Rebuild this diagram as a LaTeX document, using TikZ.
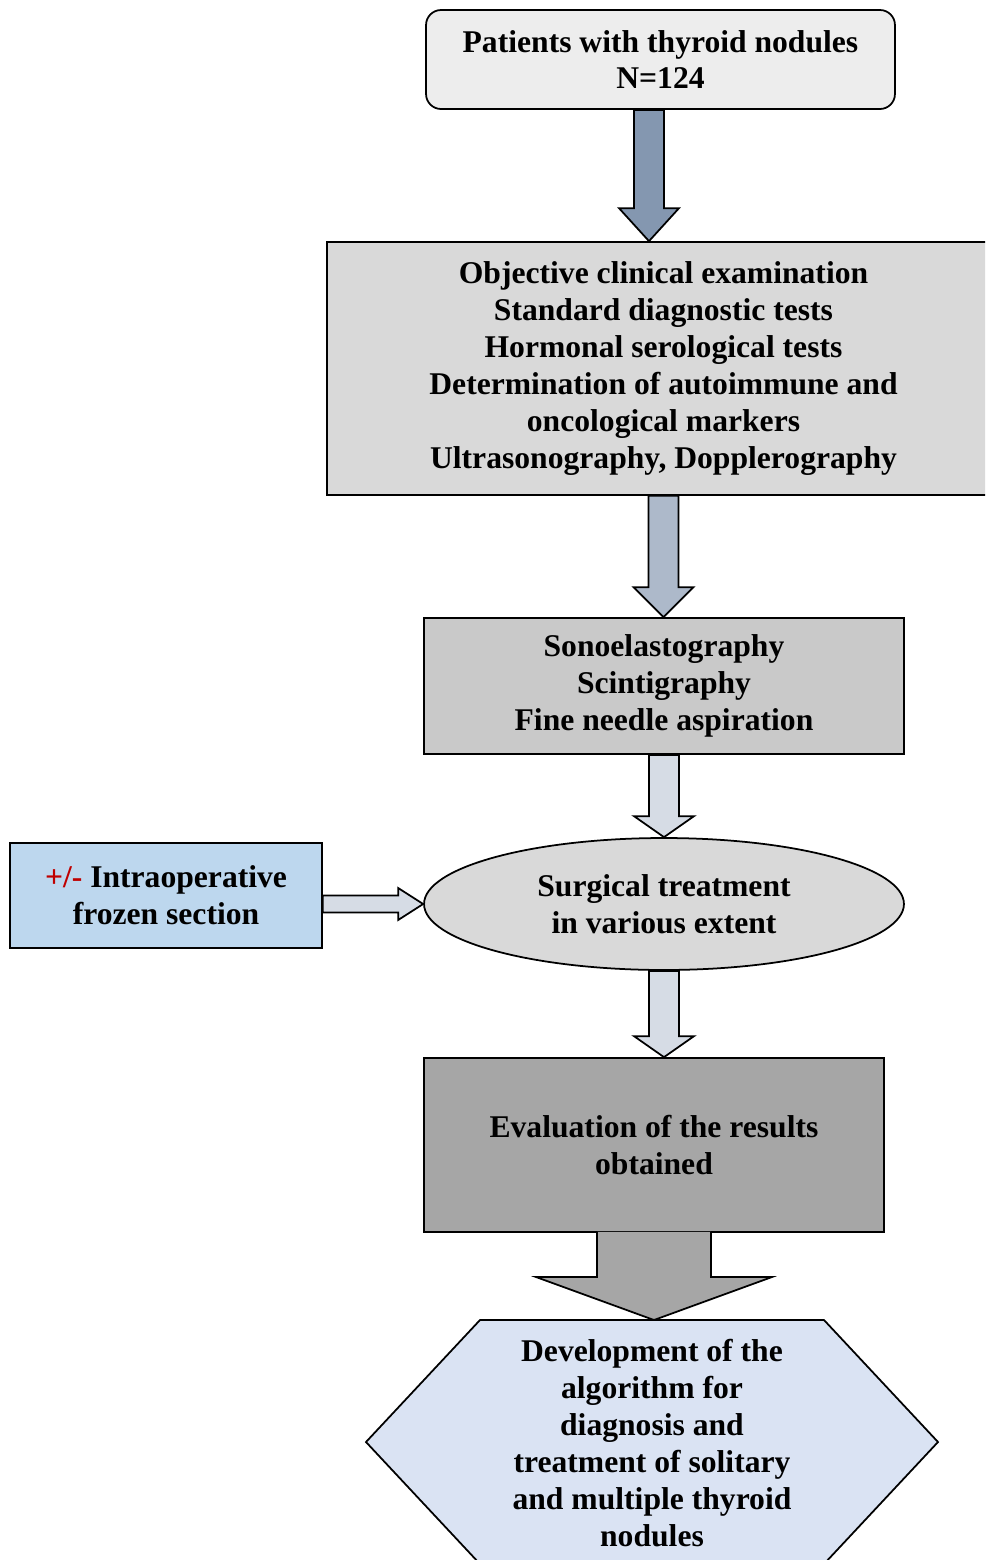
\documentclass[tikz,border=0pt]{standalone}
\usepackage{fontspec}
\setmainfont{Liberation Serif}
\usepackage{xcolor}
\usetikzlibrary{calc,shapes.geometric}
\definecolor{topgray}{HTML}{EDEDED}
\definecolor{examgray}{HTML}{D9D9D9}
\definecolor{probegray}{HTML}{C9C9C9}
\definecolor{evalgray}{HTML}{A6A6A6}
\definecolor{frozenblue}{HTML}{BDD7EE}
\definecolor{hexblue}{HTML}{DAE3F3}
\definecolor{arrowdark}{HTML}{8497B0}
\definecolor{arrowmid}{HTML}{ADB9CA}
\definecolor{arrowlight}{HTML}{D6DCE5}
\definecolor{plusred}{HTML}{C00000}

\begin{document}
\begin{tikzpicture}[x=0.02cm,y=-0.02cm,line width=1pt,line join=miter,
	font=\bfseries\fontsize{18}{21}\selectfont,
	stage/.style={draw, align=center, inner sep=0pt}]
	\useasboundingbox (0,0) rectangle (985,1560);
	\clip (0,0) rectangle (985,1560);
	\node[stage, fill=topgray, rounded corners=0.3cm, minimum width=9.38cm, minimum height=1.98cm] (patients) at (660.5,59.5) {Patients with thyroid nodules\\N=124};
	\node[stage, fill=examgray, minimum width=13.46cm, minimum height=5.06cm] (exam) at (663.5,368.5) {Objective clinical examination\\Standard diagnostic tests\\Hormonal serological tests\\Determination of autoimmune and\\oncological markers\\Ultrasonography, Dopplerography};
	\node[stage, fill=probegray, minimum width=9.6cm, minimum height=2.72cm] (probe) at (664,686) {Sonoelastography\\Scintigraphy\\Fine needle aspiration};
	\node[stage, ellipse, fill=examgray, minimum width=9.6cm, minimum height=2.64cm] (surg) at (664,904) {Surgical treatment\\in various extent};
	\node[stage, fill=frozenblue, minimum width=6.24cm, minimum height=2.1cm] (frozen) at (166,895.5) {\textcolor{plusred}{+/-} Intraoperative\\frozen section};
	\node[stage, fill=evalgray, minimum width=9.2cm, minimum height=3.48cm] (eval) at (654,1145) {Evaluation of the results\\obtained};
	\draw[fill=hexblue] (366,1442) -- (480,1320) -- (824,1320) -- (938,1442) -- (824,1564) -- (480,1564) -- cycle;
	\coordinate (algotop) at (652,1320);
	\node[align=center] (algo) at (652,1443) {Development of the\\algorithm for\\diagnosis and\\treatment of solitary\\and multiple thyroid\\nodules};

	\coordinate (s1) at ($(patients.south)+(-11.5,0)$);
	\coordinate (e1) at (s1 |- exam.north);
	\draw[fill=arrowdark] ($(s1)+(-15,0)$) -- ($(e1)+(-15,-33)$) -- ($(e1)+(-30,-33)$) -- (e1) -- ($(e1)+(30,-33)$) -- ($(e1)+(15,-33)$) -- ($(s1)+(15,0)$) -- cycle;
	\coordinate (s2) at (exam.south);
	\coordinate (e2) at (s2 |- probe.north);
	\draw[fill=arrowmid] ($(s2)+(-15,0)$) -- ($(e2)+(-15,-30)$) -- ($(e2)+(-30,-30)$) -- (e2) -- ($(e2)+(30,-30)$) -- ($(e2)+(15,-30)$) -- ($(s2)+(15,0)$) -- cycle;
	\coordinate (s3) at (probe.south);
	\coordinate (e3) at (s3 |- surg.north);
	\draw[fill=arrowlight] ($(s3)+(-15,0)$) -- ($(e3)+(-15,-21)$) -- ($(e3)+(-30,-21)$) -- (e3) -- ($(e3)+(30,-21)$) -- ($(e3)+(15,-21)$) -- ($(s3)+(15,0)$) -- cycle;
	\coordinate (s4) at (surg.south);
	\coordinate (e4) at (s4 |- eval.north);
	\draw[fill=arrowlight] ($(s4)+(-15,0)$) -- ($(e4)+(-15,-21)$) -- ($(e4)+(-30,-21)$) -- (e4) -- ($(e4)+(30,-21)$) -- ($(e4)+(15,-21)$) -- ($(s4)+(15,0)$) -- cycle;
	\coordinate (s5) at (frozen.east |- surg.west);
	\coordinate (e5) at (surg.west);
	\draw[fill=arrowlight] ($(s5)+(0,-8.5)$) -- ($(e5)+(-25,-8.5)$) -- ($(e5)+(-25,-16)$) -- (e5) -- ($(e5)+(-25,16)$) -- ($(e5)+(-25,8.5)$) -- ($(s5)+(0,8.5)$) -- cycle;
	\coordinate (s6) at ($(eval.south)+(0,-1)$);
	\coordinate (e6) at (s6 |- algotop);
	\draw[fill=evalgray] ($(s6)+(-57,0)$) -- ($(e6)+(-57,-43)$) -- ($(e6)+(-118,-43)$) -- (e6) -- ($(e6)+(118,-43)$) -- ($(e6)+(57,-43)$) -- ($(s6)+(57,0)$);
\end{tikzpicture}
\end{document}
